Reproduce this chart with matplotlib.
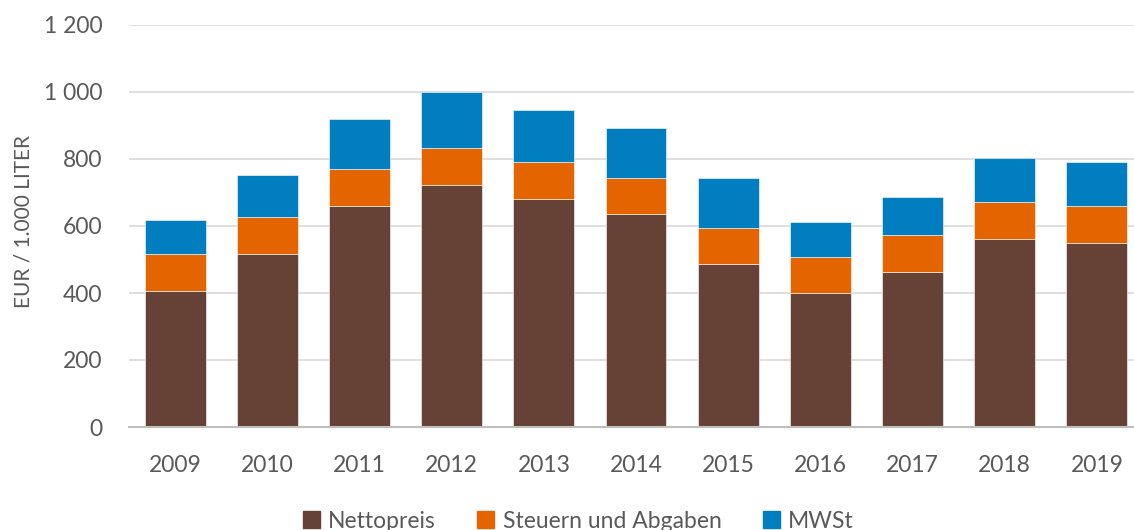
import matplotlib.pyplot as plt
import numpy as np
from matplotlib.patches import Patch

# values, EUR per 1.000 liter
years = ['2009', '2010', '2011', '2012', '2013', '2014',
         '2015', '2016', '2017', '2018', '2019']
netto = [407, 516, 660, 722, 680, 635, 488, 399, 462, 562, 550]
steuern = [109, 111, 109, 110, 110, 109, 105, 109, 110, 111, 110]
mwst = [101, 124, 151, 169, 155, 148, 151, 105, 114, 130, 131]

labels = ['Nettopreis', 'Steuern und Abgaben', 'MWSt']
colors = ['#654235', '#E46500', '#007EC0']
grey = '#595959'

plt.rcParams['font.family'] = ['Lato', 'DejaVu Sans']

fig = plt.figure(figsize=(11.34, 5.30), dpi=100)
ax = fig.add_axes([129 / 1134, 103 / 530, 1014 / 1134, 402 / 530])

x = np.arange(len(years))
w = 0.66
bottom = np.zeros(len(years))
for vals, c in zip([netto, steuern, mwst], colors):
    ax.bar(x, vals, w, bottom=bottom, color=c, edgecolor='white',
           linewidth=0.4, zorder=3)
    bottom += np.array(vals)

ax.set_xlim(-0.5, len(years) - 0.5)
ax.set_ylim(0, 1200)
ax.set_yticks(range(0, 1201, 200))
ax.set_yticklabels([f'{v:,}'.replace(',', ' ') for v in range(0, 1201, 200)])
ax.set_xticks(x)
ax.set_xticklabels(years)

ax.grid(axis='y', color='#d9d9d9', linewidth=1.2, zorder=0)
for s in ['top', 'right', 'left']:
    ax.spines[s].set_visible(False)
ax.spines['bottom'].set_color('#bfbfbf')
ax.spines['bottom'].set_linewidth(1.5)
ax.spines['bottom'].set_zorder(4)
ax.tick_params(length=0, colors=grey, labelsize=16.5)
ax.tick_params(axis='x', pad=20)
ax.tick_params(axis='y', pad=19)

ax.set_ylabel('EUR / 1.000 LITER', color=grey, fontsize=15)
ax.yaxis.set_label_coords(-0.094, 0.51)

handles = [Patch(color=c) for c in colors]
fig.legend(handles, labels, loc='lower center', ncol=3, frameon=False,
           fontsize=16.5, labelcolor=grey, handlelength=0.75, handleheight=0.75,
           handletextpad=0.35, columnspacing=1.8, bbox_to_anchor=(0.51, -0.042))

fig.savefig('out.png', dpi=100)
